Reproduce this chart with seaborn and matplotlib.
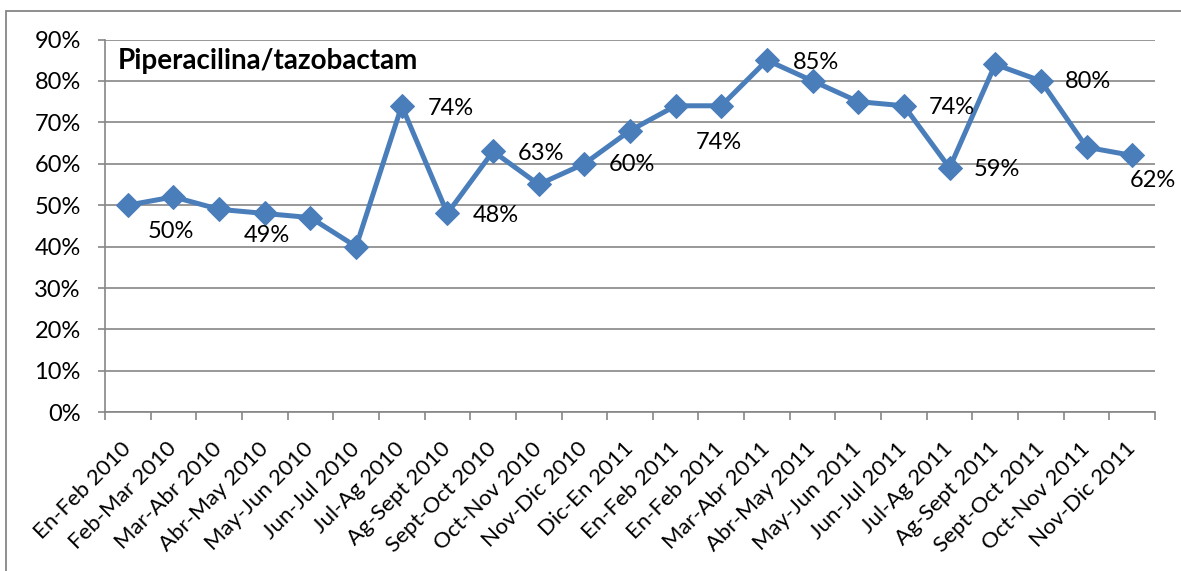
import numpy as np
import pandas as pd
import matplotlib
matplotlib.use("Agg")
import matplotlib.pyplot as plt
from matplotlib.patches import Rectangle
import seaborn as sns

# Bimonthly periods and susceptibility (%) to piperacillin/tazobactam
periods = [
    "En-Feb 2010", "Feb-Mar 2010", "Mar-Abr 2010", "Abr-May 2010",
    "May-Jun 2010", "Jun-Jul 2010", "Jul-Ag 2010", "Ag-Sept 2010",
    "Sept-Oct 2010", "Oct-Nov 2010", "Nov-Dic 2010", "Dic-En 2011",
    "En-Feb 2011", "En-Feb 2011", "Mar-Abr 2011", "Abr-May 2011",
    "May-Jun 2011", "Jun-Jul 2011", "Jul-Ag 2011", "Ag-Sept 2011",
    "Sept-Oct 2011", "Oct-Nov 2011", "Nov-Dic 2011",
]
values = [50, 52, 49, 48, 47, 40, 74, 48, 63, 55, 60, 68,
          74, 74, 85, 80, 75, 74, 59, 84, 80, 64, 62]
labelled = [0, 2, 6, 7, 8, 10, 12, 14, 17, 18, 20, 22]
y_ticks = [0, 10, 20, 30, 40, 50, 60, 70, 80, 90]
title = "Piperacilina/tazobactam"

# label placement (pixel offsets from the point)
label_offsets = {0: (43, -26), 2: (48, -26), 6: (49, -3), 7: (48, -2),
                 8: (48, -2), 10: (48, -1), 12: (43, -37), 14: (49, -2),
                 17: (48, -2), 18: (47, -2), 20: (47, -1), 22: (21, -25)}

sns.set_style("white")
plt.rcParams["font.family"] = ["Lato", "DejaVu Sans"]

LINE = "#4A7EBB"
GREY = "#868686"
FS = 17

df = pd.DataFrame({"pos": np.arange(len(values)), "value": values})

fig = plt.figure(figsize=(11.81, 5.71), dpi=100)
ax = fig.add_axes([0.0889, 0.278, 0.8891, 0.6528])

sns.lineplot(data=df, x="pos", y="value", ax=ax, sort=False,
             color=LINE, linewidth=3.6, marker="D", markersize=12,
             markeredgecolor=LINE, markerfacecolor=LINE)

ax.set_xlim(-0.5, len(values) - 0.5)
ax.set_ylim(0, 90)
ax.set_xlabel("")
ax.set_ylabel("")

ax.set_yticks(y_ticks, labels=[f"{t}%" for t in y_ticks])
ax.set_xticks(np.arange(len(periods)), labels=periods)
ax.set_xticks(np.arange(-0.5, len(periods)), minor=True)
for lab in ax.get_xticklabels():
    lab.set_rotation(45)
    lab.set_ha("right")
    lab.set_va("center")
    lab.set_rotation_mode("anchor")

ax.tick_params(axis="x", which="major", length=0, pad=24, labelsize=16,
               labelcolor="black")
ax.tick_params(axis="x", which="minor", length=5.5, width=1.2, color=GREY,
               direction="out", bottom=True)
ax.tick_params(axis="y", length=5.4, width=1.2, color=GREY, direction="out",
               left=True, pad=12, labelsize=FS, labelcolor="black")

ax.yaxis.grid(True, color=GREY, linewidth=1.2)
ax.xaxis.grid(False)
ax.set_axisbelow(True)
for side in ("top", "right"):
    ax.spines[side].set_visible(False)
for side in ("left", "bottom"):
    ax.spines[side].set_color(GREY)
    ax.spines[side].set_linewidth(1.2)

ax.text(0.0125, 0.943, title, transform=ax.transAxes, fontsize=20,
        fontweight="bold", ha="left", va="center", color="black")

for i in labelled:
    dx, dy = label_offsets[i]
    ax.annotate(f"{values[i]}%", xy=(i, values[i]), xytext=(dx, dy),
                textcoords="offset pixels", ha="center", va="center",
                fontsize=FS, color="black")

# outer chart frame
fig.patches.append(Rectangle((6 / 1181, -0.1), 1.2, 1.1 - 11 / 571,
                             transform=fig.transFigure, fill=False,
                             edgecolor=GREY, linewidth=1.3))

fig.savefig("out.png", dpi=100)
